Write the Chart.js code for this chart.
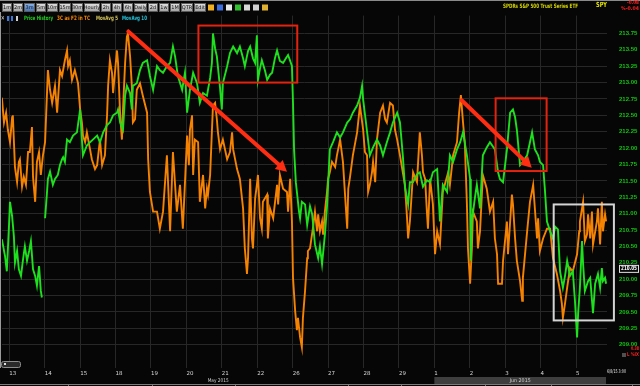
<!DOCTYPE html>
<html><head><meta charset="utf-8">
<script src="https://cdn.jsdelivr.net/npm/chart.js@4"></script>
<style>html,body{margin:0;padding:0;background:#000;overflow:hidden}#wrap{width:640px;height:386px;position:relative}</style>
</head><body><div id="wrap"><canvas id="c" width="640" height="386"></canvas></div>
<script>
// ---- data (x = trading days since 13 May open, y = price) ----
const dayLabels = ['13','14','15','18','19','20','21','22','26','27','28','29','1','2','3','4','5'];
const monthSpans = [['May 2015', -0.21, 12], ['Jun 2015', 12, 16.875]];
const yTicks = [209.00,209.25,209.50,209.75,210.00,210.25,210.50,210.75,211.00,211.25,211.50,211.75,212.00,212.25,212.50,212.75,213.00,213.25,213.50,213.75];
const lastPrice = 210.05;

const priceHistory = [[-0.21,210.61],[-0.12,210.35],[-0.07,210.12],[-0.01,210.80],[0.02,211.18],[0.08,210.96],[0.13,210.65],[0.16,210.25],[0.22,210.43],[0.27,210.15],[0.33,210.05],[0.39,210.31],[0.44,210.50],[0.50,210.28],[0.56,210.43],[0.61,210.58],[0.67,210.15],[0.73,210.05],[0.78,209.90],[0.84,210.20],[0.89,209.82],[0.92,209.72],[0.96,null],[1.01,210.93],[1.06,211.29],[1.09,211.53],[1.15,211.64],[1.23,211.44],[1.29,211.53],[1.37,211.59],[1.43,211.74],[1.49,211.83],[1.52,211.86],[1.57,211.79],[1.63,212.13],[1.71,212.09],[1.80,212.19],[1.91,212.24],[2.00,212.59],[2.05,212.13],[2.08,211.89],[2.19,212.04],[2.28,212.09],[2.36,212.13],[2.48,212.19],[2.56,212.09],[2.65,212.24],[2.76,212.35],[2.84,212.39],[2.93,212.50],[3.04,212.54],[3.07,212.59],[3.13,212.39],[3.21,212.28],[3.27,212.80],[3.32,212.95],[3.41,212.84],[3.46,212.59],[3.49,212.95],[3.60,212.99],[3.69,213.19],[3.77,213.30],[3.89,213.34],[3.97,213.10],[4.06,212.89],[4.17,213.25],[4.25,213.19],[4.34,213.15],[4.45,213.25],[4.54,213.30],[4.62,213.55],[4.68,213.40],[4.76,213.10],[4.88,212.89],[4.96,213.15],[5.02,212.54],[5.10,212.89],[5.19,213.15],[5.30,212.99],[5.38,212.69],[5.47,212.84],[5.58,212.80],[5.67,213.07],[5.72,213.30],[5.75,213.75],[5.81,213.52],[5.86,213.40],[5.95,212.92],[6.00,212.59],[6.03,212.99],[6.15,213.25],[6.23,213.45],[6.32,213.55],[6.43,213.45],[6.51,213.55],[6.60,213.37],[6.65,213.25],[6.74,213.48],[6.80,213.55],[6.88,213.37],[6.94,213.30],[6.99,213.72],[7.02,213.04],[7.08,213.22],[7.13,213.34],[7.22,213.18],[7.28,213.04],[7.36,213.12],[7.42,213.15],[7.50,213.37],[7.56,213.49],[7.64,213.33],[7.73,213.30],[7.81,213.37],[7.87,213.42],[7.93,213.33],[7.98,213.25],[8.01,212.69],[8.04,211.98],[8.09,211.48],[8.12,211.33],[8.18,211.03],[8.21,210.93],[8.26,211.18],[8.35,211.14],[8.41,210.83],[8.49,211.11],[8.55,210.99],[8.63,210.53],[8.72,210.32],[8.77,210.50],[8.83,210.23],[8.91,210.68],[8.97,211.11],[9.00,211.44],[9.05,211.98],[9.14,212.09],[9.25,212.24],[9.34,212.16],[9.42,212.24],[9.54,212.39],[9.62,212.44],[9.70,212.54],[9.82,212.65],[9.90,212.77],[9.96,212.95],[9.99,212.74],[10.07,212.39],[10.18,211.89],[10.27,212.01],[10.38,212.13],[10.47,212.04],[10.55,211.89],[10.66,212.09],[10.75,212.24],[10.83,212.39],[10.95,212.54],[11.03,212.39],[11.11,211.89],[11.17,211.41],[11.26,211.14],[11.31,211.48],[11.40,211.48],[11.51,211.60],[11.59,211.63],[11.68,211.41],[11.79,211.51],[11.88,211.48],[11.96,211.63],[12.08,211.68],[12.16,210.88],[12.24,211.44],[12.36,211.33],[12.44,211.89],[12.53,211.79],[12.64,211.98],[12.73,212.09],[12.81,212.24],[12.92,211.89],[13.01,211.53],[13.03,210.28],[13.06,210.88],[13.15,211.26],[13.20,211.44],[13.29,211.08],[13.37,211.89],[13.48,212.01],[13.57,212.09],[13.71,211.98],[13.80,211.63],[13.85,211.53],[13.94,211.48],[14.05,211.98],[14.14,212.54],[14.22,212.59],[14.28,212.47],[14.33,212.28],[14.42,211.74],[14.50,211.79],[14.62,211.89],[14.70,212.09],[14.76,212.24],[14.84,211.98],[14.93,211.89],[14.98,211.79],[15.07,211.74],[15.12,211.38],[15.18,210.88],[15.27,210.73],[15.35,210.62],[15.41,210.80],[15.49,210.76],[15.55,210.12],[15.63,209.87],[15.69,210.05],[15.75,210.28],[15.83,210.05],[15.91,210.12],[15.97,209.67],[16.03,209.11],[16.06,209.48],[16.11,209.87],[16.17,210.58],[16.20,210.23],[16.25,209.82],[16.34,209.97],[16.40,210.02],[16.48,209.48],[16.54,209.93],[16.62,210.08],[16.68,209.87],[16.73,210.17],[16.76,209.97],[16.82,210.02],[16.85,209.93]];

const threeC = [[-0.21,212.77],[-0.15,212.39],[-0.09,212.54],[-0.04,212.28],[0.02,212.09],[0.08,212.47],[0.10,212.50],[0.16,211.71],[0.22,211.48],[0.27,211.79],[0.30,211.83],[0.36,211.41],[0.41,211.56],[0.47,211.44],[0.53,211.94],[0.58,211.94],[0.64,212.32],[0.67,211.56],[0.73,211.18],[0.78,211.79],[0.84,211.94],[0.89,211.59],[0.95,211.89],[1.01,212.09],[1.09,213.19],[1.15,212.89],[1.21,212.69],[1.29,212.95],[1.35,212.54],[1.43,213.19],[1.49,213.10],[1.57,213.34],[1.63,213.49],[1.66,213.25],[1.71,213.34],[1.77,213.04],[1.85,213.19],[1.94,212.99],[2.00,212.59],[2.05,212.39],[2.08,212.19],[2.14,212.09],[2.19,212.24],[2.28,211.98],[2.33,211.83],[2.42,211.68],[2.48,211.74],[2.56,212.13],[2.62,211.74],[2.70,211.89],[2.76,212.50],[2.79,212.95],[2.84,213.34],[2.90,213.15],[2.93,212.84],[3.04,213.49],[3.07,213.30],[3.13,212.50],[3.18,212.13],[3.21,212.59],[3.27,213.30],[3.32,213.70],[3.35,213.75],[3.41,213.40],[3.46,212.95],[3.49,212.39],[3.55,212.44],[3.60,212.89],[3.69,212.99],[3.77,212.80],[3.89,212.54],[3.92,211.83],[3.97,211.33],[4.06,211.03],[4.17,211.03],[4.25,210.77],[4.34,211.03],[4.45,211.89],[4.54,210.73],[4.62,211.94],[4.73,211.03],[4.82,211.44],[4.90,210.77],[5.02,212.19],[5.07,211.74],[5.10,212.28],[5.16,212.50],[5.19,211.59],[5.24,212.13],[5.33,212.09],[5.38,211.18],[5.47,211.59],[5.53,211.08],[5.58,211.38],[5.61,211.29],[5.67,211.59],[5.75,212.65],[5.81,212.69],[5.86,212.44],[5.89,212.24],[5.95,211.98],[6.03,212.13],[6.15,211.83],[6.23,211.94],[6.29,212.24],[6.32,211.98],[6.43,211.68],[6.51,211.53],[6.60,211.08],[6.65,210.47],[6.71,210.08],[6.74,210.32],[6.80,211.53],[6.85,210.62],[6.88,210.47],[6.94,211.23],[6.99,211.44],[7.02,211.59],[7.08,210.93],[7.13,210.77],[7.16,211.18],[7.28,211.29],[7.30,210.62],[7.36,211.08],[7.45,210.93],[7.56,211.44],[7.59,211.14],[7.64,211.59],[7.73,211.38],[7.84,211.33],[7.87,211.03],[7.93,211.53],[7.98,210.88],[8.01,210.02],[8.07,209.52],[8.12,209.22],[8.15,209.41],[8.21,209.11],[8.26,208.96],[8.29,209.41],[8.35,209.82],[8.41,210.32],[8.43,210.43],[8.49,210.47],[8.57,210.77],[8.63,211.03],[8.69,210.73],[8.72,210.99],[8.77,210.73],[8.83,210.88],[8.86,210.68],[8.91,211.03],[8.97,211.33],[9.00,211.53],[9.05,211.63],[9.11,211.79],[9.20,211.71],[9.25,211.89],[9.34,212.13],[9.42,211.79],[9.54,210.77],[9.57,211.38],[9.62,211.56],[9.70,211.89],[9.82,212.24],[9.90,212.65],[9.99,212.28],[10.04,211.94],[10.10,211.89],[10.13,211.33],[10.18,211.44],[10.24,211.63],[10.27,211.79],[10.33,211.48],[10.38,212.13],[10.47,212.54],[10.55,212.65],[10.61,212.44],[10.66,212.39],[10.75,212.69],[10.83,212.65],[10.89,212.28],[10.95,212.13],[11.03,211.89],[11.11,211.63],[11.17,211.44],[11.23,210.93],[11.26,210.62],[11.31,210.88],[11.40,211.63],[11.51,211.48],[11.59,212.24],[11.65,211.89],[11.68,211.63],[11.74,211.53],[11.79,211.03],[11.82,210.77],[11.88,211.53],[11.96,211.14],[12.02,210.38],[12.08,210.73],[12.16,210.53],[12.24,211.33],[12.39,211.63],[12.44,211.44],[12.53,211.89],[12.64,212.09],[12.70,212.54],[12.75,212.81],[12.81,212.39],[12.86,212.09],[12.92,211.14],[12.95,210.47],[13.01,209.93],[13.06,210.47],[13.09,211.03],[13.20,210.88],[13.23,210.47],[13.29,210.73],[13.37,211.59],[13.48,211.38],[13.57,211.03],[13.66,211.18],[13.71,210.62],[13.77,210.38],[13.80,209.93],[13.91,209.93],[13.94,210.28],[14.05,210.88],[14.08,210.38],[14.19,211.29],[14.22,211.14],[14.28,210.62],[14.33,210.28],[14.42,209.97],[14.48,209.67],[14.50,210.02],[14.62,210.73],[14.70,211.18],[14.79,211.44],[14.90,210.62],[14.93,210.93],[14.98,210.43],[15.07,210.62],[15.18,210.77],[15.27,210.77],[15.35,210.32],[15.46,210.08],[15.55,209.82],[15.60,209.63],[15.63,209.41],[15.69,209.63],[15.75,209.87],[15.83,210.17],[15.91,210.12],[16.03,210.38],[16.09,210.73],[16.11,210.88],[16.20,211.18],[16.25,210.58],[16.31,210.68],[16.34,210.99],[16.40,210.62],[16.45,211.03],[16.48,210.53],[16.59,210.88],[16.62,211.08],[16.68,210.53],[16.73,211.18],[16.76,210.73],[16.82,210.99],[16.85,210.88]];

// annotations in data coordinates [day, price]
const redBoxes = [[5.34, 213.87, 8.13, 213.00], [13.73, 212.76, 15.17, 211.65]];
const whiteBox = [15.37, 211.14, 17.07, 209.37];
const redArrows = [[3.36, 213.78, 7.84, 211.64], [12.77, 212.73, 14.75, 211.70]];

// ---- helpers ----
function fitText(ctx, s, x, y, w, font, color, align) {
  ctx.save();
  ctx.font = font; ctx.fillStyle = color; ctx.textBaseline = 'middle';
  const m = ctx.measureText(s).width;
  const sc = w ? w / m : 1;
  let x0 = x;
  if (align === 'center') x0 = x - (w || m) / 2;
  if (align === 'right') x0 = x - (w || m);
  ctx.translate(x0, y); ctx.scale(sc, 1); ctx.textAlign = 'left';
  ctx.fillText(s, 0, 0);
  ctx.restore();
}

const bgPlugin = {
  id: 'bg',
  beforeDraw(chart) {
    const ctx = chart.ctx;
    ctx.save(); ctx.fillStyle = '#060606'; ctx.fillRect(0, 0, 640, 386); ctx.restore();
  }
};

const decorPlugin = {
  id: 'decor',
  afterDatasetsDraw(chart) {
    const ctx = chart.ctx, xs = chart.scales.x, ys = chart.scales.y;
    const px = v => xs.getPixelForValue(v), py = v => ys.getPixelForValue(v);
    ctx.save();
    ctx.strokeStyle = '#e3230f'; ctx.lineWidth = 2;
    redBoxes.forEach(b => { ctx.strokeRect(px(b[0]), py(b[1]), px(b[2]) - px(b[0]), py(b[3]) - py(b[1])); });
    ctx.strokeStyle = '#d4d4d4';
    ctx.strokeRect(px(whiteBox[0]), py(whiteBox[1]), px(whiteBox[2]) - px(whiteBox[0]), py(whiteBox[3]) - py(whiteBox[1]));
    redArrows.forEach(a => {
      const x1 = px(a[0]), y1 = py(a[1]), x2 = px(a[2]), y2 = py(a[3]);
      const ang = Math.atan2(y2 - y1, x2 - x1);
      const hl = 11, hw = 6;
      const bx = x2 - hl * Math.cos(ang), by = y2 - hl * Math.sin(ang);
      ctx.strokeStyle = '#ff2d12'; ctx.fillStyle = '#ff2d12';
      ctx.lineWidth = 4; ctx.lineCap = 'round';
      ctx.beginPath(); ctx.moveTo(x1, y1); ctx.lineTo(bx, by); ctx.stroke();
      ctx.beginPath();
      ctx.moveTo(x2, y2);
      ctx.lineTo(bx + hw * Math.sin(ang), by - hw * Math.cos(ang));
      ctx.lineTo(bx - hw * Math.sin(ang), by + hw * Math.cos(ang));
      ctx.closePath(); ctx.fill();
    });
    ctx.restore();
  },
  afterDraw(chart) {
    const ctx = chart.ctx, xs = chart.scales.x, ys = chart.scales.y;
    ctx.save();
    ctx.fillStyle = '#8a8a8a'; ctx.fillRect(0, 0, 640, 1);
    ctx.fillStyle = '#9a9a9a'; ctx.fillRect(0, 12, 1, 356);
    const btns = [['1m',2,12],['2m',13,23],['3m',24,35],['5m',36,46],['10m',47,58],['15m',59,71],['30m',72,83],['Hourly',84,100],['2h',101,111],['4h',112,122],['6h',123,133],['Daily',134,147],['2d',148,158],['1w',159,169],['1M',170,180],['QTR',181,193],['Edit',194,206]];
    btns.forEach(b => {
      const sel = b[0] === '3m';
      const g = ctx.createLinearGradient(0, 3, 0, 12);
      if (sel) { g.addColorStop(0, '#8fb8ec'); g.addColorStop(1, '#3d6fb5'); }
      else { g.addColorStop(0, '#e6e6e6'); g.addColorStop(1, '#9c9c9c'); }
      ctx.fillStyle = g; ctx.fillRect(b[1], 3.5, b[2] - b[1], 8);
      ctx.strokeStyle = '#5a5a5a'; ctx.lineWidth = 1; ctx.strokeRect(b[1] + 0.5, 3.5, b[2] - b[1] - 1, 8);
      fitText(ctx, b[0], (b[1] + b[2]) / 2, 7.8, null, '5px "DejaVu Sans"', '#111', 'center');
    });
    const icons = [[208,'#f0b020'],[217,'#3c6ee0'],[226,'#e8e8e8'],[235,'#30c030'],[244,'#d8d8d8'],[253,'#d0d0d0'],[262,'#e0b030']];
    icons.forEach(ic => { ctx.fillStyle = ic[1]; ctx.fillRect(ic[0], 4.5, 6, 6); });
    fitText(ctx, '✕', 1, 18.5, 3.5, '6px "DejaVu Sans"', '#e0e0e0');
    ctx.fillStyle = '#3a7ae0'; ctx.fillRect(7, 16, 2, 5); ctx.fillRect(11, 16, 2, 5);
    ctx.fillStyle = '#d0d0d0'; ctx.fillRect(16, 16, 2, 5);
    fitText(ctx, 'Price History', 24, 18.5, 29, 'bold 6px "DejaVu Sans"', '#1ed21e');
    fitText(ctx, '3C as F2 in TC', 57, 18.5, 33, 'bold 6px "DejaVu Sans"', '#ff8a00');
    fitText(ctx, 'MovAvg 5', 96, 18.5, 22, 'bold 6px "DejaVu Sans"', '#d6c65c');
    fitText(ctx, 'MovAvg 10', 122, 18.5, 25, 'bold 6px "DejaVu Sans"', '#22c4dc');
    fitText(ctx, 'SPDRs S&P 500 Trust Series ETF', 503, 6, 75, 'bold 6px "DejaVu Sans"', '#d6d600');
    fitText(ctx, 'SPY', 596, 5.5, 11, 'bold 7px "DejaVu Sans"', '#e6e600');
    fitText(ctx, '-0.08', 627, 3, 12, 'bold 5px "DejaVu Sans"', '#ff2020');
    fitText(ctx, '%-0.04', 621, 8.7, 18, 'bold 5px "DejaVu Sans"', '#ff2020');
    const ly = ys.getPixelForValue(lastPrice) - 7;
    ctx.fillStyle = '#0a0a0a'; ctx.fillRect(619, ly - 4, 20, 8);
    ctx.strokeStyle = '#e0e0e0'; ctx.lineWidth = 1; ctx.strokeRect(619.5, ly - 3.5, 19, 7);
    fitText(ctx, lastPrice.toFixed(2), 621, ly, 16, 'bold 6px "DejaVu Sans"', '#ffffff');
    fitText(ctx, '0.38', 631, 348.5, 8, 'bold 5px "DejaVu Sans"', '#ff2020');
    ctx.fillStyle = '#505050'; ctx.fillRect(622, 353, 4, 4);
    fitText(ctx, 'L %IX', 627, 355, 12, 'bold 5px "DejaVu Sans"', '#ff2020');
    fitText(ctx, '6/8/15 3:00', 607, 371.5, 19, '5px "DejaVu Sans"', '#e8e8e8');
    monthSpans.forEach((m, i) => {
      const a = Math.max(xs.getPixelForValue(m[1]), 2), b = Math.min(xs.getPixelForValue(m[2]), 606);
      if (i === monthSpans.length - 1) { ctx.fillStyle = '#3e3e3e'; ctx.fillRect(a, 377, b - a, 7); }
      fitText(ctx, m[0], (a + b) / 2, 380.5, 21, '5px "DejaVu Sans"', '#d0d0d0', 'center');
    });
    ctx.fillStyle = '#7a7a7a'; ctx.fillRect(0, 384, 640, 1);
    [68, 152, 235, 348, 401, 485, 551, 632].forEach(x => ctx.fillRect(x, 384, 1, 2));
    ctx.strokeStyle = '#8c8c8c'; ctx.fillStyle = '#2a2a2a';
    ctx.beginPath(); ctx.roundRect(1.5, 361.5, 19, 6, 2); ctx.fill(); ctx.stroke();
    ctx.fillStyle = '#e0e0e0'; ctx.fillRect(4, 363, 2, 2);
    ctx.restore();
  }
};

const toPts = arr => arr.map(p => ({ x: p[0], y: p[1] }));

new Chart(document.getElementById('c'), {
  type: 'line',
  data: {
    datasets: [
      { label: 'Price History', data: toPts(priceHistory), borderColor: '#1ee01e', borderWidth: 1.9, pointRadius: 0, tension: 0, spanGaps: false },
      { label: '3C as F2 in TC', data: toPts(threeC), borderColor: '#f58200', borderWidth: 1.9, pointRadius: 0, tension: 0 }
    ]
  },
  options: {
    responsive: false, animation: false, devicePixelRatio: 1,
    layout: { padding: { left: 2, top: 12, right: 0, bottom: 0 } },
    plugins: { legend: { display: false }, tooltip: { enabled: false } },
    scales: {
      x: {
        type: 'linear', min: -0.206, max: 16.875,
        afterBuildTicks: s => { s.ticks = dayLabels.map((_, i) => ({ value: i })); },
        afterFit: s => { s.height = 18; },
        ticks: { callback: v => dayLabels[v], align: 'start', color: '#d8d8d8', font: { size: 5.5, family: 'DejaVu Sans' }, padding: 2, maxRotation: 0, autoSkip: false },
        grid: { color: '#272727', drawTicks: false },
        border: { display: false }
      },
      y: {
        position: 'right', min: 208.644, max: 214.022,
        afterBuildTicks: s => { s.ticks = yTicks.map(v => ({ value: v })); },
        afterFit: s => { s.width = 33; },
        ticks: { callback: v => v.toFixed(2), color: '#12c412', font: { size: 6, weight: 'bold', family: 'Liberation Sans' }, padding: 12 },
        grid: { color: '#272727', drawTicks: false },
        border: { display: false }
      }
    }
  },
  plugins: [bgPlugin, decorPlugin]
});
</script></body></html>
